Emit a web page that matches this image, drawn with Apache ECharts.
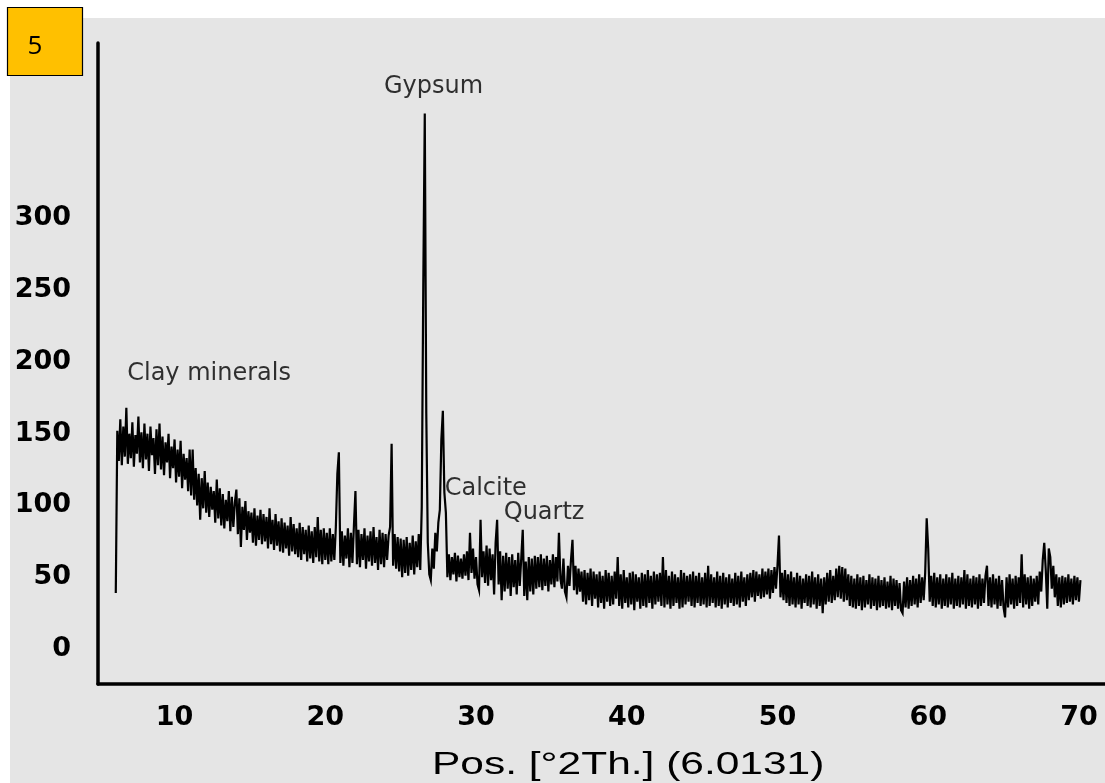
<!DOCTYPE html>
<html>
<head>
<meta charset="utf-8">
<script src="https://cdn.jsdelivr.net/npm/echarts@6/dist/echarts.min.js"></script>
<style>
html,body{margin:0;padding:0;background:#fff;}
#chart{width:1105px;height:783px;}
</style>
</head>
<body>
<div id="chart"></div>
<script>
const segmentStarts = [6.1, 15.1, 20.1, 25.1, 30.1, 37.1, 45.1, 55.1];
const angleStep = 0.1;
const intensity06 = [
  39, 152, 131, 160, 128, 155, 134, 168, 129, 150,
  133, 158, 127, 149, 136, 162, 130, 151, 126, 157,
  132, 150, 124, 155, 135, 147, 122, 153, 128, 157,
  125, 148, 121, 144, 130, 150, 119, 141, 126, 146,
  116, 139, 120, 145, 112, 136, 118, 133, 110, 139,
  107, 139, 104, 126, 100, 122, 90, 119, 98, 124,
  95, 116, 92, 113, 97, 110, 88, 118, 91, 112,
  86, 108, 84, 104, 89, 110, 82, 106, 85, 102,
  111, 80, 105, 71, 99, 83, 103, 76, 96, 81
];
const intensity15 = [
  95, 74, 98, 72, 93, 76, 97, 73, 94, 75,
  92, 70, 98, 73, 90, 69, 94, 72, 89, 68,
  91, 67, 88, 70, 86, 65, 92, 68, 87, 66,
  84, 64, 88, 62, 85, 66, 83, 61, 86, 63,
  82, 60, 85, 64, 92, 61, 83, 59, 84, 62
];
const intensity20 = [
  81, 59, 84, 61, 80, 62, 85, 122, 137, 60,
  82, 58, 79, 63, 84, 57, 81, 60, 86, 110,
  59, 83, 57, 80, 62, 84, 56, 79, 61, 82,
  58, 85, 60, 78, 55, 83, 59, 81, 57, 80,
  62, 79, 85, 143, 58, 80, 56, 78, 54, 77
];
const intensity25 = [
  50, 76, 53, 78, 51, 74, 55, 79, 52, 75,
  57, 80, 55, 99, 252, 373, 164, 74, 52, 48,
  70, 56, 81, 68, 88, 97, 146, 166, 109, 95,
  50, 66, 48, 64, 52, 67, 47, 65, 50, 63,
  49, 66, 51, 68, 48, 81, 53, 70, 49, 64
];
const intensity30 = [
  45, 41, 90, 50, 68, 46, 72, 44, 70, 48,
  66, 38, 74, 90, 45, 68, 34, 65, 40, 67,
  42, 64, 37, 66, 43, 62, 38, 67, 44, 63,
  83, 37, 61, 34, 64, 40, 63, 38, 65, 42,
  64, 43, 66, 41, 63, 44, 65, 40, 62, 45,
  66, 43, 64, 47, 81, 49, 42, 63, 40, 36,
  58, 44, 62, 76, 41, 58, 38, 56, 40, 54
];
const intensity37 = [
  33, 55, 31, 53, 34, 56, 30, 54, 35, 52,
  29, 54, 32, 51, 28, 55, 33, 53, 30, 51,
  31, 54, 35, 64, 30, 52, 28, 55, 32, 50,
  29, 53, 31, 54, 27, 52, 33, 50, 28, 53,
  30, 52, 29, 55, 32, 51, 28, 54, 31, 52,
  33, 53, 30, 64, 29, 55, 31, 51, 28, 54,
  30, 52, 32, 50, 28, 55, 29, 53, 31, 51,
  33, 52, 30, 54, 29, 51, 32, 53, 30, 50
];
const intensity45 = [
  31, 53, 29, 58, 30, 52, 32, 50, 29, 54,
  30, 51, 28, 53, 31, 50, 29, 52, 32, 49,
  30, 53, 31, 51, 29, 54, 33, 50, 30, 52,
  34, 53, 36, 55, 33, 54, 37, 52, 35, 56,
  36, 54, 38, 56, 35, 55, 39, 57, 42, 58,
  79, 36, 53, 34, 55, 32, 52, 30, 54, 31,
  50, 29, 53, 31, 51, 28, 49, 32, 52, 30,
  51, 29, 54, 31, 50, 28, 52, 30, 49, 25,
  50, 31, 53, 33, 55, 32, 51, 34, 56, 36,
  58, 35, 57, 33, 56, 34, 52, 30, 51, 29
];
const intensity55 = [
  49, 28, 52, 30, 50, 27, 51, 29, 48, 31,
  52, 28, 50, 30, 49, 27, 51, 29, 48, 30,
  50, 28, 47, 29, 51, 27, 49, 30, 48, 28,
  46, 27, 25, 47, 29, 50, 28, 48, 30, 51,
  31, 49, 29, 52, 32, 50, 34, 53, 91, 70,
  33, 51, 30, 53, 29, 50, 31, 52, 28, 49,
  30, 52, 29, 50, 31, 53, 28, 49, 30, 51,
  29, 50, 31, 55, 28, 52, 30, 49, 29, 51,
  31, 50, 28, 52, 30, 49, 32, 51, 58, 30,
  50, 29, 52, 31, 49, 28, 51, 30, 48, 29,
  22, 50, 29, 52, 31, 49, 28, 51, 30, 50,
  32, 66, 29, 52, 31, 50, 28, 51, 30, 49,
  33, 51, 31, 54, 40, 62, 74, 55, 28, 70,
  64, 42, 58, 36, 52, 30, 50, 29, 51, 31,
  50, 32, 52, 33, 49, 31, 51, 34, 50, 33, 48
];
const xTickLabels = [10, 20, 30, 40, 50, 60, 70];
const yTickLabels = [0, 50, 100, 150, 200, 250, 300];
const annotationNames = ['Clay minerals', 'Gypsum', 'Calcite', 'Quartz'];
const annotationX = [6.86, 23.89, 27.92, 31.84];
const annotationY = [192, 392, 111.5, 95];
const axisTitle = 'Pos. [°2Th.] (6.0131)';
const panelNumber = '5';

// ---- build ----
const segments = [intensity06, intensity15, intensity20, intensity25, intensity30, intensity37, intensity45, intensity55];
const xyData = [];
segments.forEach((seg, s) => {
  seg.forEach((v, i) => {
    xyData.push([+(segmentStarts[s] + i * angleStep).toFixed(2), v]);
  });
});
const annData = annotationNames.map((n, i) => ({ name: n, value: [annotationX[i], annotationY[i]] }));

const chart = echarts.init(document.getElementById('chart'), null, { renderer: 'canvas' });
chart.setOption({
  animation: false,
  backgroundColor: '#ffffff',
  graphic: [
    { type: 'rect', z: -10, shape: { x: 10, y: 18, width: 1095, height: 765 }, style: { fill: '#e5e5e5' } },
    { type: 'rect', z: 100, shape: { x: 7.5, y: 7.5, width: 75, height: 68 }, style: { fill: '#FFC000', stroke: '#000', lineWidth: 1.2 } },
    { type: 'text', z: 101, x: 35, y: 47, style: { text: panelNumber, font: '26px "Open Sans"', fill: '#000', textAlign: 'center', textVerticalAlign: 'middle' } },
    { type: 'text', z: 101, x: 432, y: 765, scaleX: 1.37, style: { text: axisTitle, font: '31px "Liberation Sans"', fill: '#000', textAlign: 'left', textVerticalAlign: 'middle' } }
  ],
  grid: { left: 98, top: 43, right: 0, bottom: 99, containLabel: false },
  xAxis: {
    type: 'value', min: 4.92, max: 71.73,
    axisLine: { show: true, onZero: false, lineStyle: { color: '#000', width: 3.5 } },
    axisTick: { show: false },
    splitLine: { show: false },
    axisLabel: { customValues: xTickLabels, margin: 20, color: '#000', fontFamily: 'DejaVu Sans', fontWeight: 'bold', fontSize: 27 }
  },
  yAxis: {
    type: 'value', min: -24.4, max: 422.2,
    axisLine: { show: true, onZero: false, lineStyle: { color: '#000', width: 3.5 } },
    axisTick: { show: false },
    splitLine: { show: false },
    axisLabel: { customValues: yTickLabels, margin: 27, color: '#000', fontFamily: 'DejaVu Sans', fontWeight: 'bold', fontSize: 27 }
  },
  series: [
    {
      type: 'line', data: xyData, showSymbol: false, symbol: 'none',
      lineStyle: { color: '#000', width: 2.2, join: 'miter' }, silent: true, clip: false
    },
    {
      type: 'scatter', data: annData, symbolSize: 0, silent: true,
      label: { show: true, position: 'right', distance: 0, formatter: p => p.name, color: '#000', fontFamily: 'DejaVu Sans', fontSize: 24 }
    }
  ]
});
</script>
</body>
</html>
